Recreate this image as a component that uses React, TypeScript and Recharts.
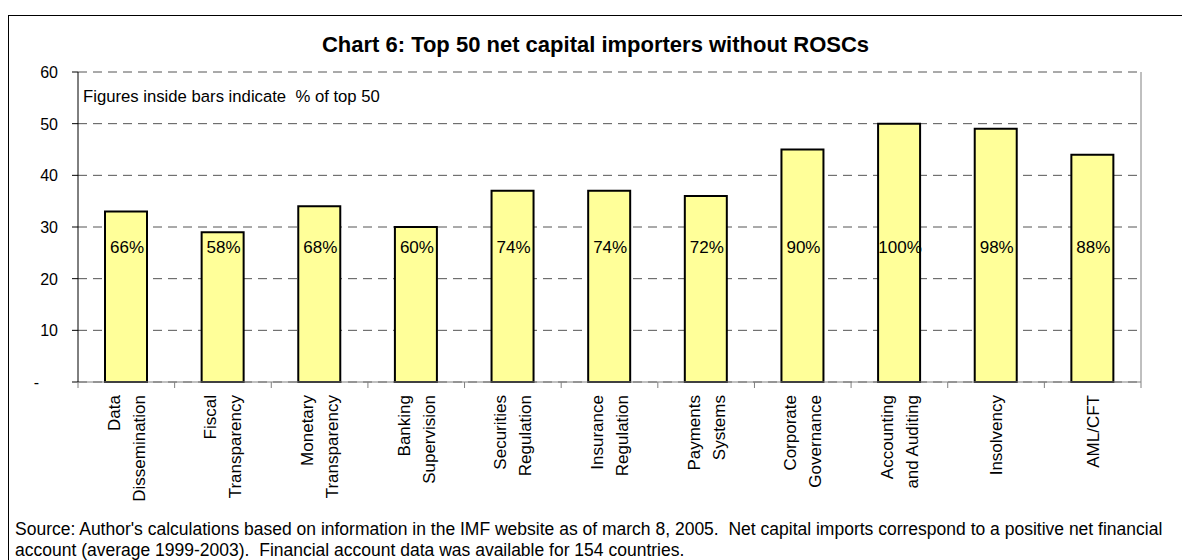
import { Bar, BarChart, CartesianGrid, LabelList, XAxis, YAxis } from "recharts";

// categories (line breaks as in the original axis labels)
const CATEGORIES = [
  "Data\nDissemination",
  "Fiscal\nTransparency",
  "Monetary\nTransparency",
  "Banking\nSupervision",
  "Securities\nRegulation",
  "Insurance\nRegulation",
  "Payments\nSystems",
  "Corporate\nGovernance",
  "Accounting\nand Auditing",
  "Insolvency",
  "AML/CFT",
];

// number of top-50 net capital importers without a ROSC
const COUNTRIES = [33, 29, 34, 30, 37, 37, 36, 45, 50, 49, 44];

// figures printed inside the bars
const SHARES = ["66%", "58%", "68%", "60%", "74%", "74%", "72%", "90%", "100%", "98%", "88%"];

const Y_TICKS = [0, 10, 20, 30, 40, 50, 60];

const data = CATEGORIES.map((name, i) => ({ name, count: COUNTRIES[i], share: SHARES[i] }));

const FONT = '"Liberation Sans", Arial, sans-serif';
const CHART_W = 1173;
const CHART_H = 500;
const MARGIN = { top: 56, right: 40, bottom: 0, left: 9 };
const Y_AXIS_W = 60;
const X_AXIS_H = 134;
const PLOT_W = CHART_W - MARGIN.left - MARGIN.right - Y_AXIS_W - 1;
const BAND = PLOT_W / CATEGORIES.length;
const LABEL_LEVEL = 26.1; // data units where the % labels sit

function CategoryTick(props: any) {
  const { x, y, payload, index } = props;
  const half = BAND / 2;
  const lines = String(payload.value).split("\n");
  const isLast = index === CATEGORIES.length - 1 || payload.value === CATEGORIES[CATEGORIES.length - 1];
  return (
    <g>
      <line x1={x - half} x2={x - half} y1={y} y2={y + 6} stroke="#808080" />
      {isLast && <line x1={x + half} x2={x + half} y1={y} y2={y + 6} stroke="#808080" />}
      {lines.map((ln, i) => {
        const bx = x + 6 + (i - (lines.length - 1) / 2) * 25;
        const by = y + 13;
        return (
          <text
            key={i}
            x={bx}
            y={by}
            transform={`rotate(-90 ${bx} ${by})`}
            textAnchor="end"
            fontSize={17}
            fontFamily={FONT}
            fill="#000"
          >
            {ln}
          </text>
        );
      })}
    </g>
  );
}

function ValueTick(props: any) {
  const { x, y, payload } = props;
  const zero = payload.value === 0;
  return (
    <text x={zero ? x - 19 : x} y={y} dy={6} textAnchor="end" fontSize={16} fontFamily={FONT} fill="#000">
      {zero ? "-" : payload.value}
    </text>
  );
}

function ShareLabel(props: any) {
  const { x, y, width, height, value, index } = props;
  const bottom = y + height;
  const perUnit = height / value;
  const ly = bottom - LABEL_LEVEL * perUnit;
  return (
    <text x={x + width / 2 + 1} y={ly} dy={6} textAnchor="middle" fontSize={17} fontFamily={FONT} fill="#000">
      {SHARES[index]}
    </text>
  );
}

export default function App() {
  return (
    <div
      style={{
        position: "absolute",
        left: 8,
        top: 15,
        width: 1174,
        height: 545,
        boxSizing: "border-box",
        borderLeft: "1px solid #000",
        borderTop: "1px solid #000",
        background: "#fff",
        fontFamily: FONT,
        overflow: "hidden",
      }}
    >
      <style>{`body{margin:0;overflow:hidden;background:#fff}`}</style>
      <div
        style={{
          position: "absolute",
          left: 0,
          top: 16,
          width: "100%",
          textAlign: "center",
          fontSize: 22,
          lineHeight: "26px",
          fontWeight: "bold",
          color: "#000",
        }}
      >
        Chart 6: Top 50 net capital importers without ROSCs
      </div>
      <div style={{ position: "absolute", left: 0, top: 0 }}>
        <BarChart width={CHART_W} height={CHART_H} data={data} margin={MARGIN} barSize={42}>
          <CartesianGrid vertical={false} stroke="#555" strokeDasharray="9 6" />
          <XAxis
            dataKey="name"
            interval={0}
            height={X_AXIS_H}
            tick={<CategoryTick />}
            tickLine={false}
            tickSize={0}
            tickMargin={0}
            axisLine={{ stroke: "#808080" }}
          />
          <YAxis
            domain={[0, 60]}
            ticks={Y_TICKS}
            width={Y_AXIS_W}
            tick={<ValueTick />}
            tickSize={6}
            tickMargin={14}
            tickLine={{ stroke: "#000" }}
            axisLine={{ stroke: "#000" }}
            interval={0}
          />
          <YAxis
            yAxisId="frame"
            orientation="right"
            width={1}
            domain={[0, 60]}
            tick={false}
            tickLine={false}
            axisLine={{ stroke: "#808080" }}
          />
          <Bar dataKey="count" fill="#FFFF99" stroke="#000" strokeWidth={2} isAnimationActive={false}>
            <LabelList dataKey="count" content={<ShareLabel />} />
          </Bar>
        </BarChart>
      </div>
      <div
        style={{
          position: "absolute",
          left: 74,
          top: 71,
          fontSize: 16.7,
          lineHeight: "20px",
          color: "#000",
          whiteSpace: "pre",
        }}
      >
        {"Figures inside bars indicate  % of top 50"}
      </div>
      <div
        style={{
          position: "absolute",
          left: 6,
          top: 503,
          fontSize: 17.5,
          lineHeight: "21px",
          color: "#000",
          whiteSpace: "pre",
        }}
      >
        {"Source: Author's calculations based on information in the IMF website as of march 8, 2005.  Net capital imports correspond to a positive net financial\naccount (average 1999-2003).  Financial account data was available for 154 countries."}
      </div>
    </div>
  );
}
